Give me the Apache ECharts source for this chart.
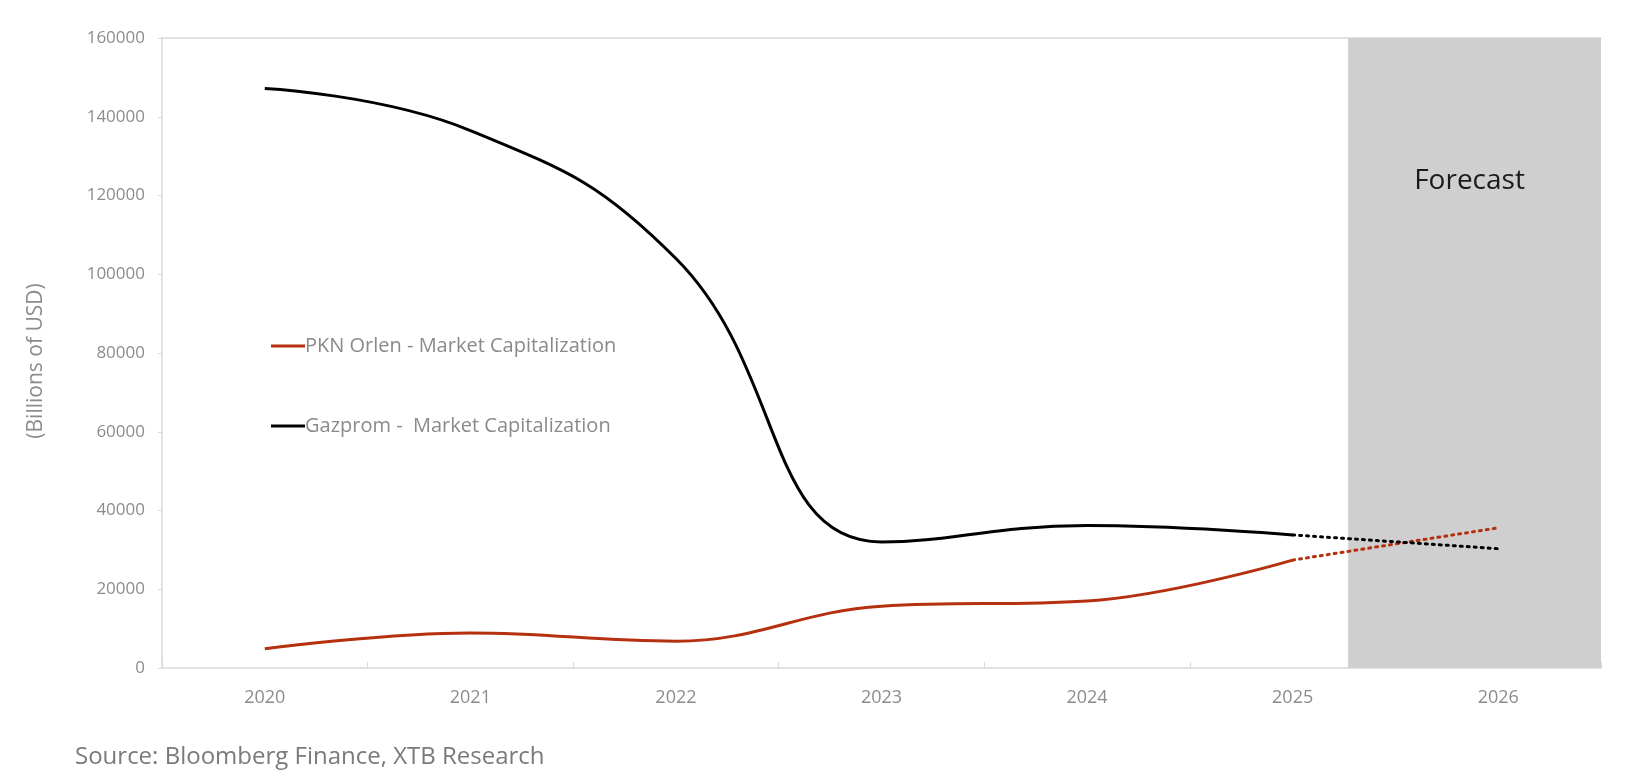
<!DOCTYPE html>
<html>
<head>
<meta charset="utf-8">
<script src="https://cdn.jsdelivr.net/npm/echarts@6/dist/echarts.min.js"></script>
<style>
html,body{margin:0;padding:0;background:#fff;}
#chart{width:1625px;height:778px;}
</style>
</head>
<body>
<div id="chart"></div>
<script>
const years = ['2020','2021','2022','2023','2024','2025','2026'];
const orlenActual   = [4900, 8900, 6800, 15700, 17000, 27400, '-'];
const orlenForecast = ['-', '-', '-', '-', '-', 27400, 35600];
const gazpromActual   = [147200, 136500, 104000, 32000, 36200, 33800, '-'];
const gazpromForecast = ['-', '-', '-', '-', '-', 33800, 30300];
const forecastStart = 5.77;   // position on the category axis (in category units)
const forecastEnd = 7;
const yTicks = {min: 0, max: 160000, interval: 20000};

const labelColor = '#8c8c8c';
const font = '"Open Sans", Lato, sans-serif';

const chart = echarts.init(document.getElementById('chart'));
chart.setOption({
  backgroundColor: '#ffffff',
  animation: false,
  textStyle: {fontFamily: font},
  grid: {left: 162, right: 24, top: 38, bottom: 110, containLabel: false},
  legend: {
    orient: 'vertical',
    left: 266, top: 331,
    itemGap: 60,
    itemWidth: 34, itemHeight: 3,
    icon: 'rect',
    data: ['PKN Orlen - Market Capitalization', 'Gazprom -  Market Capitalization'],
    textStyle: {color: '#8a8a8a', fontSize: 20, fontFamily: font, padding: [0,0,0,-5]}
  },
  xAxis: [{
    type: 'category',
    data: years,
    boundaryGap: true,
    axisLine: {show: true, lineStyle: {color: '#d9d9d9', width: 1.5}},
    axisTick: {show: true, inside: true, length: 6, lineStyle: {color: '#d9d9d9'}},
    axisLabel: {color: labelColor, fontSize: 18, margin: 21, fontFamily: font},
    splitLine: {show: false}
  }, {
    type: 'value',
    position: 'top',
    min: 0, max: 7,
    axisLine: {show: true, onZero: false, lineStyle: {color: '#d9d9d9', width: 1.5}},
    axisTick: {show: false},
    axisLabel: {show: false},
    splitLine: {show: false}
  }],
  yAxis: {
    type: 'value',
    min: yTicks.min, max: yTicks.max, interval: yTicks.interval,
    name: '(Billions of USD)',
    nameLocation: 'middle',
    nameGap: 115,
    nameTextStyle: {color: labelColor, fontSize: 21, fontFamily: font, padding: [0, 16, 0, 0]},
    axisLine: {show: true, lineStyle: {color: '#d9d9d9', width: 1.5}},
    axisTick: {show: true, length: 4, lineStyle: {color: '#d9d9d9'}},
    axisLabel: {color: labelColor, fontSize: 17, margin: 17, fontFamily: font,
                formatter: function (v) { return String(v); }},
    splitLine: {show: false}
  },
  series: [
    {
      name: 'forecastArea',
      type: 'line',
      xAxisIndex: 1,
      data: [],
      z: 0,
      silent: true,
      markArea: {
        silent: true,
        itemStyle: {color: '#d0cfd0'},
        label: {
          show: true,
          formatter: 'Forecast',
          position: ['48%', 143],
          align: 'center',
          verticalAlign: 'middle',
          color: '#1a1a1a',
          fontSize: 28,
          fontFamily: font
        },
        data: [[{xAxis: forecastStart, yAxis: yTicks.max}, {xAxis: forecastEnd, yAxis: yTicks.min}]]
      }
    },
    {
      name: 'PKN Orlen - Market Capitalization',
      type: 'line', smooth: 0.4, showSymbol: false,
      data: orlenActual, color: '#b5300f',
      lineStyle: {width: 3, color: '#b5300f'}, z: 3
    },
    {
      name: 'PKN Orlen forecast',
      type: 'line', smooth: false, showSymbol: false,
      data: orlenForecast, color: '#b5300f',
      lineStyle: {width: 3, color: '#b5300f', type: [2, 5], cap: 'round'}, z: 3
    },
    {
      name: 'Gazprom -  Market Capitalization',
      type: 'line', smooth: 0.45, showSymbol: false,
      data: gazpromActual, color: '#000000',
      lineStyle: {width: 3, color: '#000000'}, z: 3
    },
    {
      name: 'Gazprom forecast',
      type: 'line', smooth: false, showSymbol: false,
      data: gazpromForecast, color: '#000000',
      lineStyle: {width: 3, color: '#000000', type: [2, 5], cap: 'round'}, z: 3
    }
  ],
  graphic: [{
    type: 'text',
    left: 75, top: 745,
    style: {text: 'Source: Bloomberg Finance, XTB Research', fill: '#7a7a7a', fontSize: 24, fontFamily: font}
  }]
});
</script>
</body>
</html>
